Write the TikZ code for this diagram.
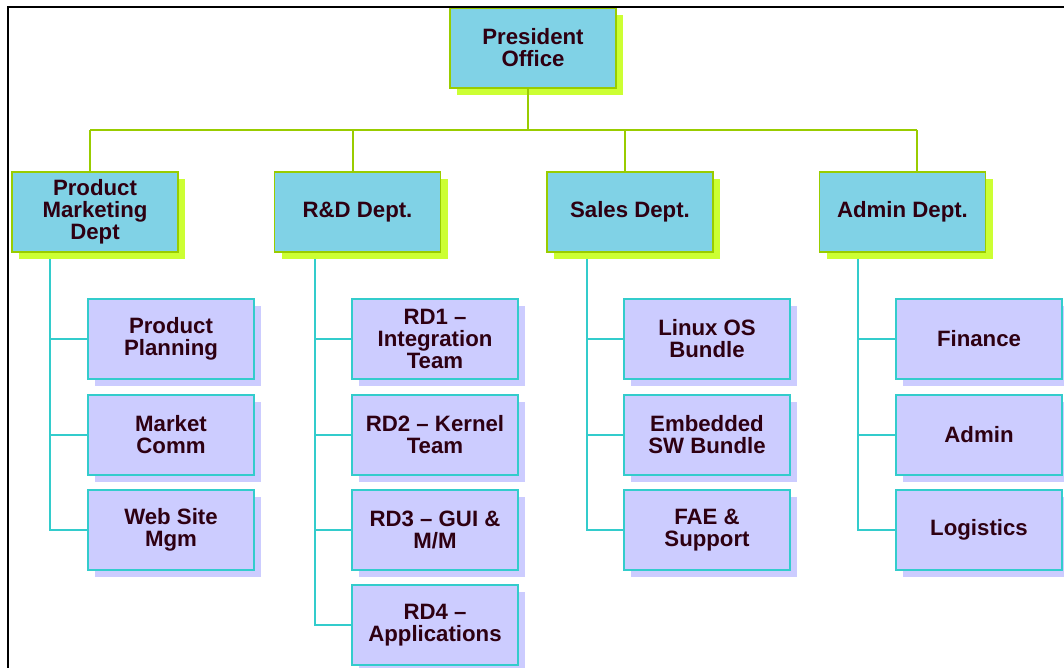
\documentclass[tikz,border=0pt]{standalone}
\usepackage{fontspec}
\setmainfont{Liberation Sans}
\usetikzlibrary{shadows,calc}
\definecolor{headfill}{HTML}{80D2E6}
\definecolor{headedge}{HTML}{99CC00}
\definecolor{headshade}{HTML}{CCFF33}
\definecolor{unitfill}{HTML}{CCCCFF}
\definecolor{unitedge}{HTML}{33CCCC}
\definecolor{inktext}{HTML}{2E0012}
\tikzset{
  x=0.025cm, y=-0.025cm,
}
\tikzstyle{every node}=[font=\fontsize{15.8}{15.6}\selectfont\bfseries,text=inktext,align=center]
\tikzstyle{dept}=[draw=headedge,fill=headfill,line width=.8pt,inner sep=0pt,
  minimum width=4.15cm,minimum height=2cm,
  drop shadow={shadow xshift=5pt,shadow yshift=-5pt,fill=headshade,opacity=1}]
\tikzstyle{unit}=[draw=unitedge,fill=unitfill,line width=.8pt,inner sep=0pt,
  minimum width=4.15cm,minimum height=2cm,
  drop shadow={shadow xshift=5pt,shadow yshift=-5pt,fill=unitfill,opacity=1}]
\tikzstyle{trunk}=[draw=headedge,line width=1pt]
\tikzstyle{branch}=[draw=unitedge,line width=1pt]

\begin{document}
\begin{tikzpicture}
  \useasboundingbox (0,0) rectangle (1064,668);
  % head and departments
  \node[dept] (pres) at (533,48) {President\\Office};
  \node[dept] (pmd) at (95,212) {Product\\Marketing\\Dept};
  \node[dept] (rnd) at (357.5,212) {R\&D Dept.};
  \node[dept] (sales) at (630,212) {Sales Dept.};
  \node[dept] (admin) at (902.5,212) {Admin Dept.};
  % units
  \node[unit] (planning) at (171,339) {Product\\Planning};
  \node[unit] (comm) at (171,435) {Market\\Comm};
  \node[unit] (web) at (171,530) {Web Site\\Mgm};
  \node[unit] (rd1) at (435,339) {RD1 --\\Integration\\Team};
  \node[unit] (rd2) at (435,435) {RD2 -- Kernel\\Team};
  \node[unit] (rd3) at (435,530) {RD3 -- GUI \&\\M/M};
  \node[unit] (rd4) at (435,625) {RD4 --\\Applications};
  \node[unit] (linux) at (707,339) {Linux OS\\Bundle};
  \node[unit] (embedded) at (707,435) {Embedded\\SW Bundle};
  \node[unit] (fae) at (707,530) {FAE \&\\Support};
  \node[unit] (finance) at (979,339) {Finance};
  \node[unit] (adm) at (979,435) {Admin};
  \node[unit] (logistics) at (979,530) {Logistics};
  % top level lines
  \coordinate (top) at (528,130);
  \coordinate (d1) at (90,130);
  \coordinate (d2) at (353,130);
  \coordinate (d3) at (625,130);
  \coordinate (d4) at (917,130);
  \draw[trunk] (d1) -- (d4);
  \draw[trunk] (pres.south -| top) -- (top);
  \foreach \d/\n in {d1/pmd,d2/rnd,d3/sales,d4/admin}
    \draw[trunk] (\d) -- (\d |- \n.north);
  % unit lines
  \coordinate (b1) at (50,259);
  \coordinate (b2) at (315,259);
  \coordinate (b3) at (587,259);
  \coordinate (b4) at (858,259);
  \draw[branch] (b1) |- (web.west);
  \draw[branch] (b2) |- (rd4.west);
  \draw[branch] (b3) |- (fae.west);
  \draw[branch] (b4) |- (logistics.west);
  \foreach \b/\c in {b1/planning,b1/comm,b2/rd1,b2/rd2,b2/rd3,b3/linux,b3/embedded,b4/finance,b4/adm}
    \draw[branch] (\b |- \c.west) -- (\c.west);
  % frame
  \draw[line width=2pt] (8,668) -- (8,7) -- (1064,7);
\end{tikzpicture}
\end{document}
